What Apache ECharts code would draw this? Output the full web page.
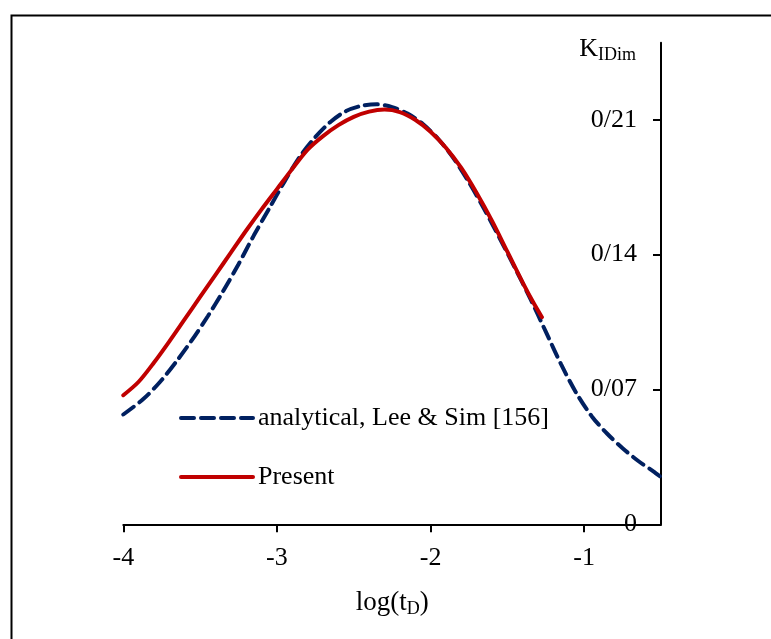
<!DOCTYPE html>
<html>
<head>
<meta charset="utf-8">
<script src="https://cdn.jsdelivr.net/npm/echarts@6/dist/echarts.min.js"></script>
<style>
html,body{margin:0;padding:0;background:#fff;}
#chart{width:771px;height:639px;}
</style>
</head>
<body>
<div id="chart"></div>
<script>
// ---- data ----
var xTicks = [-4, -3, -2, -1];
var yTicks = [0, 0.07, 0.14, 0.21];
var analyticalX = [-4.00,-3.87,-3.76,-3.65,-3.55,-3.45,-3.35,-3.25,-3.15,-3.05,-2.95,-2.85,-2.75,-2.65,-2.55,-2.45,-2.35,-2.25,-2.15,-2.05,-1.95,-1.85,-1.75,-1.65,-1.55,-1.45,-1.35,-1.25,-1.15,-1.05,-0.95,-0.85,-0.75,-0.65,-0.55,-0.50];
var analyticalY = [0.057,0.065,0.074,0.085,0.096,0.108,0.121,0.135,0.150,0.164,0.178,0.191,0.201,0.209,0.2145,0.2172,0.218,0.2166,0.2132,0.2078,0.2000,0.1900,0.1775,0.1635,0.1485,0.1330,0.1170,0.1000,0.0830,0.0680,0.0560,0.0470,0.0395,0.0330,0.0275,0.0245];
var presentX = [-4.00,-3.90,-3.80,-3.70,-3.60,-3.50,-3.40,-3.30,-3.20,-3.10,-3.00,-2.90,-2.80,-2.70,-2.60,-2.50,-2.40,-2.30,-2.20,-2.10,-2.00,-1.90,-1.80,-1.70,-1.60,-1.50,-1.40,-1.33,-1.275];
var presentY = [0.067,0.074,0.084,0.095,0.1065,0.118,0.1295,0.141,0.1525,0.1635,0.174,0.1845,0.1945,0.2015,0.2072,0.2115,0.2142,0.2153,0.2140,0.2100,0.2038,0.1955,0.1850,0.1720,0.1575,0.1415,0.1255,0.1150,0.1075];
var seriesNames = ['analytical, Lee & Sim [156]', 'Present'];

function zip(a, b) { return a.map(function (v, i) { return [v, b[i]]; }); }

var FONT = '"Liberation Serif", "Times New Roman", serif';
var chart = echarts.init(document.getElementById('chart'), null, {renderer: 'canvas'});
chart.setOption({
  backgroundColor: '#ffffff',
  animation: false,
  graphic: [{
    type: 'rect', left: 9, top: 13, silent: true,
    shape: {x: 0, y: 0, width: 820, height: 720},
    style: {fill: 'none', stroke: '#000', lineWidth: 2}
  }],
  grid: {left: 123.3, right: 110, top: 42.7, bottom: 114.7, containLabel: false},
  legend: {
    orient: 'vertical', left: 174, top: 399,
    itemWidth: 72, itemHeight: 14, itemGap: 31,
    itemStyle: {opacity: 0},
    lineStyle: {width: 4},
    textStyle: {fontFamily: FONT, fontSize: 26, color: '#000', lineHeight: 28},
    data: seriesNames
  },
  xAxis: {
    type: 'value', min: -4, max: -0.5, interval: 1,
    name: 'log(t{sub|D})', nameLocation: 'middle', nameGap: 64,
    nameTextStyle: {fontFamily: FONT, fontSize: 27, color: '#000',
      rich: {sub: {fontFamily: FONT, fontSize: 18, color: '#000', verticalAlign: 'bottom', padding: [12, 0, 0, 0]}}},
    axisLine: {show: true, onZero: false, lineStyle: {color: '#000', width: 2}},
    axisTick: {show: true, length: 8, inside: false, lineStyle: {color: '#000', width: 2}, customValues: xTicks},
    axisLabel: {fontFamily: FONT, fontSize: 26, color: '#000', margin: 21, customValues: xTicks},
    splitLine: {show: false}
  },
  yAxis: {
    type: 'value', position: 'right', min: 0, max: 0.25, interval: 0.07,
    name: 'K{sub|IDim}', nameLocation: 'end', nameGap: -22,
    nameTextStyle: {fontFamily: FONT, fontSize: 26, color: '#000', align: 'right', padding: [0, 25, 0, 0],
      rich: {sub: {fontFamily: FONT, fontSize: 18, color: '#000', padding: [14, 0, 0, 0]}}},
    axisLine: {show: true, onZero: false, lineStyle: {color: '#000', width: 2}},
    axisTick: {show: true, length: 8, inside: true, lineStyle: {color: '#000', width: 2}, customValues: yTicks},
    axisLabel: {inside: true, margin: 24, fontFamily: FONT, fontSize: 26, color: '#000', customValues: yTicks,
      formatter: function (v) {
        var n = Math.round(v * 100);
        if (n === 0) return '0';
        return '0/' + (n < 10 ? '0' + n : '' + n);
      }},
    splitLine: {show: false}
  },
  series: [{
    name: seriesNames[0], type: 'line', data: zip(analyticalX, analyticalY),
    smooth: 0.3, symbol: 'none', z: 2,
    lineStyle: {color: '#002060', width: 4, type: [13, 7], cap: 'round'},
    itemStyle: {color: '#002060'}
  }, {
    name: seriesNames[1], type: 'line', data: zip(presentX, presentY),
    smooth: 0.3, symbol: 'none', z: 3,
    lineStyle: {color: '#C00000', width: 4, cap: 'round'},
    itemStyle: {color: '#C00000'}
  }]
});
</script>
</body>
</html>
